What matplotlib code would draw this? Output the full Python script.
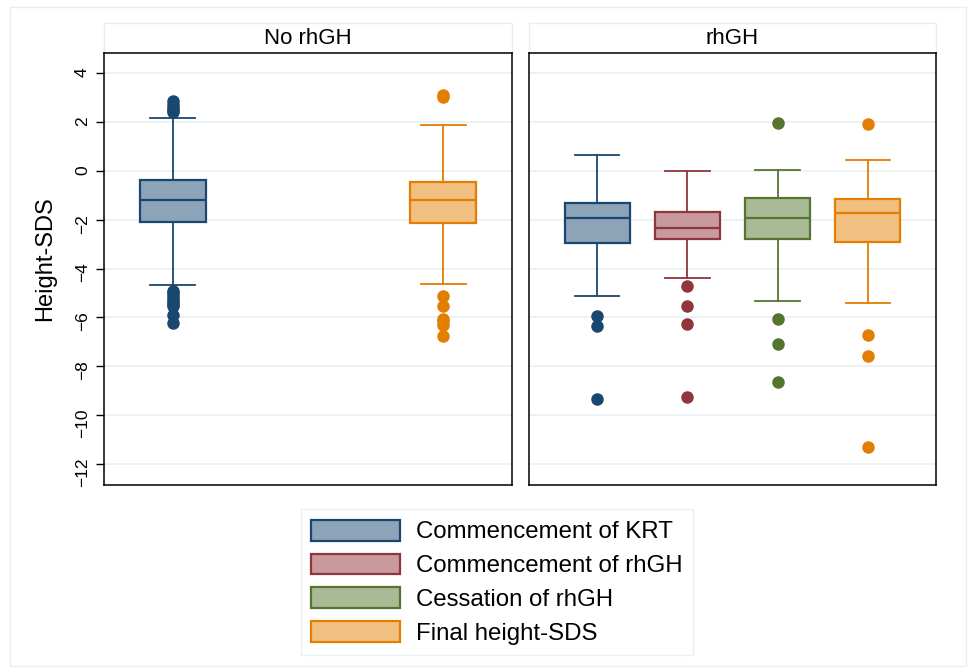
import matplotlib.pyplot as plt
from matplotlib.patches import Patch, Rectangle
from matplotlib.colors import to_rgb

plt.rcParams['font.family'] = ['Liberation Sans', 'DejaVu Sans']

# series names and colours (Stata s2color)
series = ['Commencement of KRT', 'Commencement of rhGH', 'Cessation of rhGH', 'Final height-SDS']
colors = ['#1a476f', '#90353b', '#55752f', '#e37e00']
panels = ['No rhGH', 'rhGH']

# box stats: q1, median, q3, lower whisker, upper whisker, outliers
# panel "No rhGH" only has series 0 and 3
no_q1 = [-2.07, None, None, -2.13]
no_med = [-1.17, None, None, -1.17]
no_q3 = [-0.37, None, None, -0.45]
no_lo = [-4.69, None, None, -4.64]
no_hi = [2.18, None, None, 1.88]
no_out = [
    [2.86, 2.7, 2.6, 2.5, 2.43, -4.9, -5.0, -5.14, -5.25, -5.35, -5.45, -5.55, -5.9, -6.23],
    None, None,
    [3.1, 3.03, -5.14, -5.52, -6.05, -6.15, -6.3, -6.78],
]

rh_q1 = [-2.96, -2.80, -2.77, -2.90]
rh_med = [-1.91, -2.35, -1.91, -1.71]
rh_q3 = [-1.31, -1.69, -1.12, -1.15]
rh_lo = [-5.11, -4.38, -5.33, -5.40]
rh_hi = [0.65, 0.0, 0.03, 0.45]
rh_out = [
    [-5.96, -6.34, -9.34],
    [-4.71, -5.55, -6.29, -9.25],
    [1.99, -6.06, -7.08, -8.63],
    [1.92, -6.74, -7.57, -11.33],
]

y_ticks = list(range(-12, 5, 2))


def light(c, a=0.5):
    r, g, b = to_rgb(c)
    return (1 - a + a * r, 1 - a + a * g, 1 - a + a * b)


def draw_panel(ax, q1, med, q3, lo, hi, out):
    for i in range(4):
        if med[i] is None:
            continue
        st = [dict(med=med[i], q1=q1[i], q3=q3[i], whislo=lo[i], whishi=hi[i], fliers=out[i])]
        c = colors[i]
        ax.bxp(st, positions=[i + 1], widths=0.73, capwidths=0.49, patch_artist=True,
               boxprops=dict(facecolor=light(c), edgecolor=c, linewidth=1.6),
               medianprops=dict(color=c, linewidth=1.6),
               whiskerprops=dict(color=c, linewidth=1.3),
               capprops=dict(color=c, linewidth=1.3),
               flierprops=dict(marker='o', markerfacecolor=c, markeredgecolor=c, markersize=8),
               zorder=3)
    ax.set_xlim(0.24, 4.76)
    ax.set_ylim(-12.87, 4.84)
    ax.set_xticks([])
    ax.set_yticks(y_ticks)
    ax.yaxis.grid(True, color='#eaf2f3', linewidth=1.3, zorder=0)
    ax.set_axisbelow(True)
    for s in ax.spines.values():
        s.set_linewidth(1.1)
        s.set_color('black')


fig = plt.figure(figsize=(9.69, 6.69), dpi=100)
W, H = 969, 669

# outer frame
fig.add_artist(Rectangle((10 / W, 1 - 666 / H), 956 / W, 659 / H, transform=fig.transFigure,
                         fill=False, edgecolor='#e6eef1', linewidth=1.0, zorder=-2))

ax1 = fig.add_axes([104 / W, 1 - 485 / H, 408 / W, 432 / H])
ax2 = fig.add_axes([529 / W, 1 - 485 / H, 407 / W, 432 / H])

draw_panel(ax1, no_q1, no_med, no_q3, no_lo, no_hi, no_out)
draw_panel(ax2, rh_q1, rh_med, rh_q3, rh_lo, rh_hi, rh_out)

ax1.tick_params(axis='y', length=6, width=1.0, labelsize=12.5, labelrotation=90, pad=4)
ax2.tick_params(axis='y', left=False, labelleft=False)

# panel headers
for ax, name in zip([ax1, ax2], panels):
    x0, y0, w, h = ax.get_position().bounds
    fig.add_artist(Rectangle((x0, 1 - 53 / H), w, 30 / H, transform=fig.transFigure,
                             facecolor='white', edgecolor='#e6eef1', linewidth=1.0, zorder=-1))
    fig.text(x0 + w / 2, 1 - 38 / H, name, ha='center', va='center', fontsize=16)

fig.text(45 / W, 1 - 259 / H, 'Height-SDS', rotation=90, ha='center', va='center', fontsize=17)

handles = [Patch(facecolor=light(c), edgecolor=c, linewidth=1.6) for c in colors]
leg = fig.legend(handles, series, loc='upper center', bbox_to_anchor=(497 / W, 1 - 509 / H),
                 fontsize=17.3, frameon=True, fancybox=False, edgecolor='#e6eef1',
                 handlelength=3.7, handleheight=0.95, labelspacing=0.42, borderpad=0.45,
                 handletextpad=0.65, borderaxespad=0)
leg.get_frame().set_linewidth(1.0)

fig.savefig('out.png', dpi=100)
